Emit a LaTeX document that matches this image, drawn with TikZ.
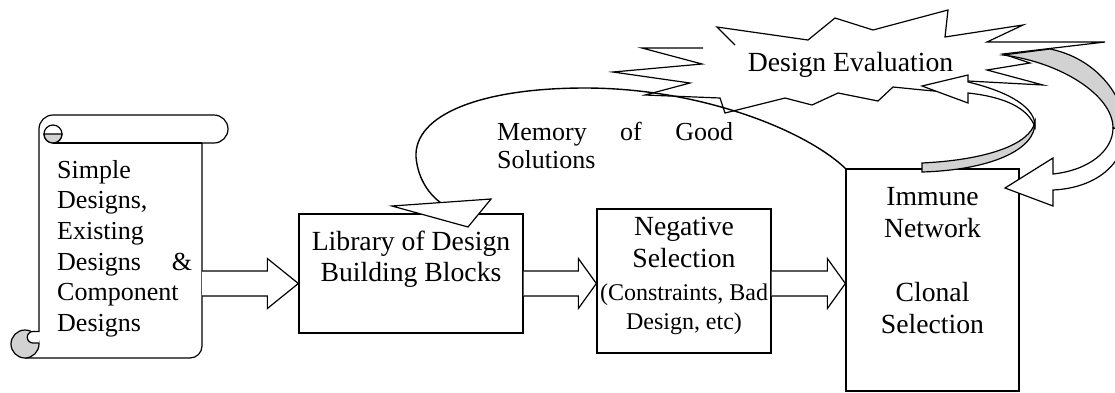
\documentclass[tikz,border=0pt]{standalone}
\usepackage{fontspec}
\setmainfont{Liberation Serif}
\usetikzlibrary{calc}
\tikzset{
  ln/.style={line width=1.2pt},
  boxnode/.style={draw, line width=1.3pt, inner sep=0pt},
  txt/.style={inner sep=0pt, anchor=base},
  txtl/.style={inner sep=0pt, anchor=base west},
  shade/.style={fill=gray!35}
}
\newcommand\blockarr[3]{%
  \draw[ln, fill=white] let \p1=(#1), \p2=(#2) in
    (\x1,\y1+12.5pt) -- (\x2-#3,\y1+12.5pt) -- (\x2-#3,\y1+25pt) -- (\x2,\y1)
    -- (\x2-#3,\y1-25pt) -- (\x2-#3,\y1-12.5pt) -- (\x1,\y1-12.5pt);}
\begin{document}
\begin{tikzpicture}[x=1pt,y=-1pt]
\useasboundingbox (0,0) rectangle (1115,392);
\clip (0,0) rectangle (1115,392);
\parskip=0pt
% ---------- scroll ----------
\draw[ln] (39,332) -- (39,129) arc[start angle=180, end angle=270, radius=14]
  -- (214,115) arc[start angle=-90, end angle=90, radius=14]
  -- (202,143) -- (202,346) arc[start angle=0, end angle=90, radius=12] -- (25,358);
\draw[ln] (53,143) -- (202,143);
\draw[ln, fill=white] (53,134) circle[radius=9];
\draw[ln, shade] (44,134) arc[start angle=180, end angle=0, radius=9] -- cycle;
\draw[ln, shade] (25,344) circle[radius=14];
\draw[ln, fill=white] (39,331.5) -- (33,331.5) arc[start angle=270, end angle=90, radius=5.75] -- (39,343);
\coordinate (scrollE) at (202,283.5);
% ---------- boxes ----------
\node[boxnode, minimum width=224pt, minimum height=119pt] (lib) at (411,273.5) {};
\node[boxnode, minimum width=174pt, minimum height=144pt] (neg) at (684,281) {};
\node[boxnode, minimum width=173pt, minimum height=222pt] (imm) at (932.5,280) {};
% ---------- block arrows ----------
\blockarr{scrollE}{lib.west |- scrollE}{31pt}
\blockarr{lib.east |- scrollE}{neg.west |- scrollE}{18pt}
\blockarr{neg.east |- scrollE}{imm.west |- scrollE}{18pt}
% ---------- burst ----------
\fill[white] (735,45) -- (717,27) -- (808,40) -- (835,18) -- (873,30) -- (948,10) -- (945,37)
  -- (1023,25) -- (987,42) -- (1105,42) -- (1003,54) -- (1030,63) -- (987,70) -- (1043,85)
  -- (968,81) -- (945,92) -- (923,90) -- (893,87) -- (878,101) -- (838,93) -- (812,105)
  -- (785,98) -- (725,113) -- (720,98) -- (645,95) -- (690,83) -- (613,72) -- (702,64)
  -- (642,48) -- (703,48) -- cycle;
\draw[ln] (735,45) -- (717,27) -- (808,40) -- (835,18) -- (873,30) -- (948,10) -- (945,37)
  -- (1023,25) -- (987,42) -- (1105,42) -- (1003,54) -- (1030,63) -- (987,70) -- (1043,85)
  -- (968,81) -- (945,92) -- (923,90) -- (893,87) -- (878,101) -- (838,93) -- (812,105)
  -- (785,98) -- (725,113) -- (720,98) -- (645,95) -- (690,83) -- (613,72) -- (702,64)
  -- (642,48) -- (703,48);
% ---------- memory curve ----------
\coordinate (memBase) at (441,203);
\draw[line width=1.4pt] (imm.north west) .. controls (805,130) and (700,88) .. (585,88)
  .. controls (480,88) and (414,115) .. (416,157)
  .. controls (418,180) and (430,195) .. (memBase);
\draw[ln, fill=white] (392,206) -- (491,199) -- (468,227) -- cycle;
% ---------- inner curved arrow ----------
\draw[ln, shade] (922,163) .. controls (985,160) and (1030,145) .. (1035,122)
  .. controls (1036,150) and (990,170) .. (922,172) -- cycle;
\draw[ln, fill=white] (968,93) -- (968,103) -- (922,86) -- (968,75) -- (968,82)
  .. controls (1010,92) and (1036,108) .. (1035,127)
  .. controls (1028,108) and (1005,97) .. (968,93) -- cycle;
% ---------- big curved arrow ----------
\draw[ln, shade] (1003,55) -- (1050,49) .. controls (1095,58) and (1125,95) .. (1125,130)
  -- (1113,128) .. controls (1113,95) and (1060,62) .. (1003,55) -- cycle;
\draw[ln, fill=white] (1053,174) -- (1053,158) -- (1005,188) -- (1053,206) -- (1053,190)
  .. controls (1095,188) and (1125,165) .. (1125,130)
  -- (1113,128) .. controls (1113,150) and (1090,170) .. (1053,174) -- cycle;
% ---------- texts ----------
\node[txtl] (scrolltext) at (57,178) {\vtop{\hsize=135pt\raggedright\fontsize{26}{30.7}\selectfont
  Simple\\Designs,\\Existing\\\leavevmode\hbox to 135pt{Designs\hfill\&}\\Component\\Designs\par}};
\node[txtl] (memtext) at (497,140) {\vtop{\hsize=236pt\raggedright\fontsize{26}{28}\selectfont
  \leavevmode\hbox to 236pt{Memory\hfill of\hfill Good}\\Solutions\par}};
\node[txt] (devtext) at (850.5,71.7) {\fontsize{27.7}{32}\selectfont Design Evaluation};
\node[txt] (libtext) at (411,250.7) {\vtop{\hsize=220pt\centering\fontsize{27.7}{31}\selectfont
  Library of Design\\Building Blocks\par}};
\node[txt] (negtext) at (684,235) {\vtop{\hsize=180pt\centering\fontsize{27.7}{32.3}\selectfont
  Negative\\Selection\par
  \fontsize{24}{33.4}\selectfont (Constraints, Bad\par
  \fontsize{24}{28.3}\selectfont Design, etc)\par}};
\node[txt] (immtext) at (932.5,205) {\vtop{\hsize=170pt\centering\fontsize{27.7}{32}\selectfont
  Immune\\Network\\\mbox{}\\Clonal\\Selection\par}};
\end{tikzpicture}
\end{document}
